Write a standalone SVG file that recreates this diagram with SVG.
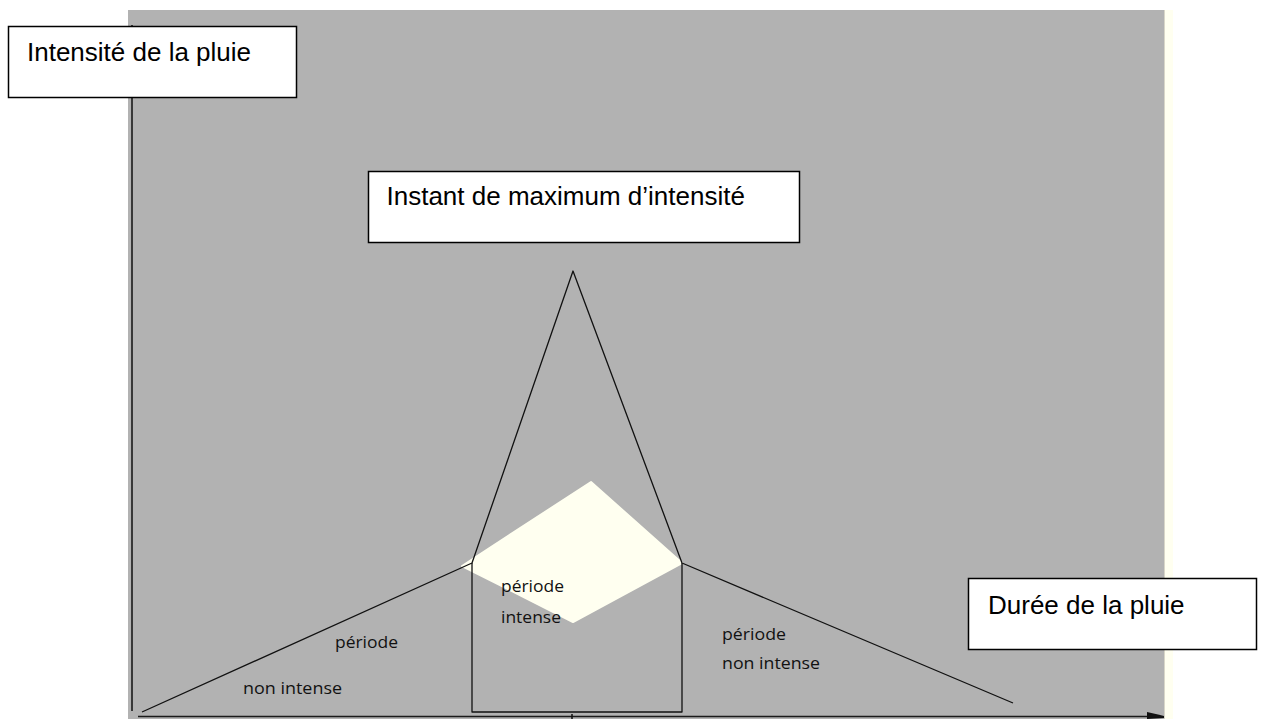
<svg xmlns="http://www.w3.org/2000/svg" width="1261" height="719" viewBox="0 0 1261 719">
  <defs>
    <style>
      .box { fill: #ffffff; stroke: #000000; stroke-width: 1.5; }
      .lbl { font-family: "Liberation Sans", Arial, sans-serif; font-size: 26px; fill: #000000; }
      .note { font-family: "Open Sans", "DejaVu Sans", sans-serif; font-size: 17px; fill: #111111; }
      .ln { fill: none; stroke: #111111; stroke-width: 1.3; stroke-linejoin: round; }
      .axis { fill: none; stroke: #1a1a1a; stroke-width: 1.6; }
    </style>
  </defs>

  <rect width="1261" height="719" fill="#ffffff"/>

  <!-- plot background -->
  <g id="background">
    <rect x="128" y="10" width="1036" height="709" fill="#b2b2b2"/>
    <rect x="1164" y="10" width="9" height="709" fill="#fffff0"/>
    <line x1="1164.5" y1="10" x2="1164.5" y2="719" stroke="#d8d6c8" stroke-width="1"/>
  </g>

  <!-- intense zone -->
  <g id="intense-zone">
    <polygon points="591,482 682,563 573,622 462,566" fill="#fffff0" stroke="#fffff0" stroke-width="2" stroke-linejoin="round"/>
  </g>

  <!-- axes and curve -->
  <g id="connectors">
    <line class="axis" x1="132" y1="25" x2="132" y2="711"/>
    <line class="axis" x1="138" y1="716.5" x2="1150" y2="716.5"/>
    <polygon points="1147,712 1158,714.5 1164,716 1164,718 1147,719" fill="#111111"/>
    <line x1="572" y1="714" x2="572" y2="719" stroke="#111111" stroke-width="1.5"/>
    <polyline class="ln" points="142,712 472,563 573,271 682,563 1013,703"/>
    <polyline class="ln" points="472,563 472,712 682,712 682,563"/>
  </g>

  <!-- period labels -->
  <g id="label-left">
    <text class="note" x="335" y="648" textLength="63" lengthAdjust="spacingAndGlyphs">période</text>
    <text class="note" x="243" y="694" textLength="99" lengthAdjust="spacingAndGlyphs">non intense</text>
  </g>
  <g id="label-middle">
    <text class="note" x="501" y="592" textLength="63" lengthAdjust="spacingAndGlyphs">période</text>
    <text class="note" x="501" y="623" textLength="60" lengthAdjust="spacingAndGlyphs">intense</text>
  </g>
  <g id="label-right">
    <text class="note" x="722" y="640" textLength="64" lengthAdjust="spacingAndGlyphs">période</text>
    <text class="note" x="722" y="669" textLength="98" lengthAdjust="spacingAndGlyphs">non intense</text>
  </g>

  <!-- text boxes -->
  <g id="box-intensite">
    <rect class="box" x="8.5" y="26.5" width="288" height="71"/>
    <text class="lbl" x="27" y="61">Intensité de la pluie</text>
  </g>
  <g id="box-maximum">
    <rect class="box" x="368.5" y="171.5" width="431" height="71"/>
    <text class="lbl" x="386.5" y="205">Instant de maximum d’intensité</text>
  </g>
  <g id="box-duree">
    <rect class="box" x="968.5" y="578.5" width="288" height="71"/>
    <text class="lbl" x="988" y="614">Durée de la pluie</text>
  </g>
</svg>
